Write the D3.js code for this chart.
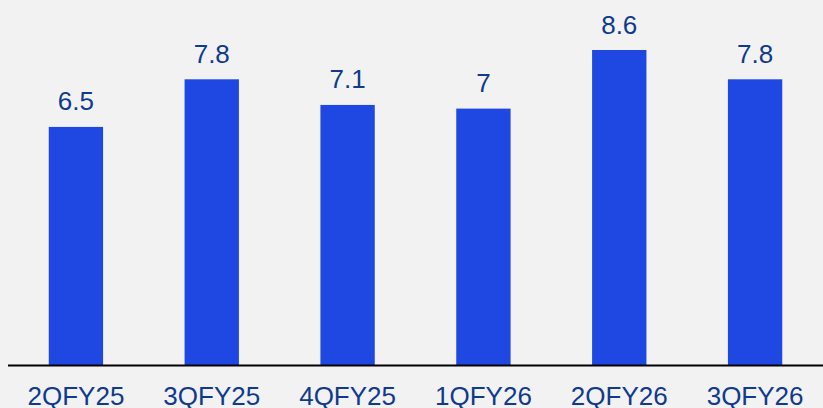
<!DOCTYPE html>
<html><head><meta charset="utf-8">
<script src="https://cdn.jsdelivr.net/npm/d3@7/dist/d3.min.js"></script>
<style>html,body{margin:0;padding:0;background:#f2f2f2;}svg{display:block;}</style>
</head><body>
<svg id="chart" width="823" height="408"></svg>
<script>
const categories = ["2QFY25","3QFY25","4QFY25","1QFY26","2QFY26","3QFY26"];
const values = [6.5, 7.8, 7.1, 7, 8.6, 7.8];
const labels = ["6.5","7.8","7.1","7","8.6","7.8"];

const W = 823, H = 408;
const baseY = 365;
const svg = d3.select("#chart");
svg.append("rect").attr("width", W).attr("height", H).attr("fill", "#f2f2f2");

const x = d3.scaleBand().domain(categories).range([8, 823]).padding(0);
const y = d3.scaleLinear().domain([0, 8.6]).range([baseY, 50]);
const barW = x.bandwidth() * 0.4;

svg.selectAll("rect.bar").data(values).enter().append("rect")
  .attr("class", "bar")
  .attr("x", (d, i) => x(categories[i]) + (x.bandwidth() - barW) / 2)
  .attr("y", d => y(d))
  .attr("width", barW)
  .attr("height", d => baseY - y(d))
  .attr("fill", "#1f48e2");

svg.selectAll("text.val").data(values).enter().append("text")
  .attr("class", "val")
  .attr("x", (d, i) => x(categories[i]) + x.bandwidth() / 2)
  .attr("y", d => y(d) - 16.5)
  .attr("text-anchor", "middle")
  .attr("font-family", "Liberation Sans, Arial, sans-serif")
  .attr("font-size", 26)
  .attr("fill", "#0f3a8e")
  .text((d, i) => labels[i]);

svg.append("line").attr("x1", 8).attr("x2", 823).attr("y1", baseY + 0.5).attr("y2", baseY + 0.5)
  .attr("stroke", "#000").attr("stroke-width", 2);

const xAxis = d3.axisBottom(x).tickSize(0).tickPadding(0);
const g = svg.append("g").attr("transform", `translate(0,${baseY})`).call(xAxis);
g.select(".domain").remove();
g.selectAll("text")
  .attr("font-family", "Liberation Sans, Arial, sans-serif")
  .attr("font-size", 26)
  .attr("fill", "#0f3a8e")
  .attr("dy", null)
  .attr("y", 40);
</script>
</body></html>
